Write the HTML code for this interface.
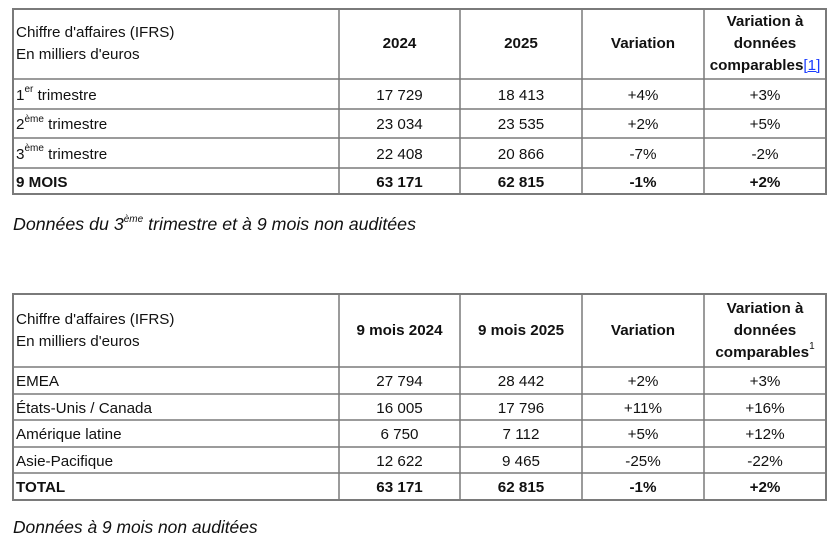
<!DOCTYPE html>
<html><head><meta charset="utf-8"><style>
html,body{margin:0;padding:0;background:#fff;width:833px;height:539px;overflow:hidden;position:relative}
body{font-family:"Liberation Sans",Arial,sans-serif;color:#111}
.c{position:absolute;display:flex;align-items:center;justify-content:center;font-size:15.2px;text-align:center;line-height:22px;box-sizing:border-box}
.r{padding-top:3px}
.l{justify-content:flex-start;text-align:left;padding-left:3px}
.b{font-weight:bold}
sup{font-size:10px;line-height:0;position:relative;top:-1px}
.it{position:absolute;left:13px;font-style:italic;font-size:17.4px;color:#111;white-space:nowrap}
svg{position:absolute;left:0;top:0}
a{color:#1a3cff;text-decoration:underline}
</style></head><body>
<svg width="833" height="539">
<g stroke="#7a7a7a" stroke-width="1.5" fill="none">
<rect x="13" y="9" width="813" height="185" stroke-width="2"/>
<line x1="339" y1="9" x2="339" y2="194"/><line x1="460" y1="9" x2="460" y2="194"/><line x1="582" y1="9" x2="582" y2="194"/><line x1="704" y1="9" x2="704" y2="194"/>
<line x1="13" y1="79" x2="826" y2="79"/><line x1="13" y1="109" x2="826" y2="109"/><line x1="13" y1="138" x2="826" y2="138"/><line x1="13" y1="168" x2="826" y2="168"/>
<rect x="13" y="294" width="813" height="206" stroke-width="2"/>
<line x1="339" y1="294" x2="339" y2="500"/><line x1="460" y1="294" x2="460" y2="500"/><line x1="582" y1="294" x2="582" y2="500"/><line x1="704" y1="294" x2="704" y2="500"/>
<line x1="13" y1="367" x2="826" y2="367"/><line x1="13" y1="394" x2="826" y2="394"/><line x1="13" y1="420" x2="826" y2="420"/><line x1="13" y1="447" x2="826" y2="447"/><line x1="13" y1="473" x2="826" y2="473"/>
</g></svg>

<!-- table 1 -->
<div class="c l" style="left:13px;top:9px;width:326px;height:70px"><span>Chiffre d'affaires (IFRS)<br>En milliers d'euros</span></div>
<div class="c b" style="left:339px;top:9px;width:121px;height:70px">2024</div>
<div class="c b" style="left:460px;top:9px;width:122px;height:70px">2025</div>
<div class="c b" style="left:582px;top:9px;width:122px;height:70px">Variation</div>
<div class="c b" style="left:704px;top:9px;width:122px;height:70px"><span>Variation à<br>données<br>comparables<a style="font-weight:normal">[1]</a></span></div>

<div class="c l r" style="left:13px;top:79px;width:326px;height:30px"><span>1<sup>er</sup> trimestre</span></div>
<div class="c r" style="left:339px;top:79px;width:121px;height:30px">17 729</div>
<div class="c r" style="left:460px;top:79px;width:122px;height:30px">18 413</div>
<div class="c r" style="left:582px;top:79px;width:122px;height:30px">+4%</div>
<div class="c r" style="left:704px;top:79px;width:122px;height:30px">+3%</div>

<div class="c l r" style="left:13px;top:109px;width:326px;height:29px"><span>2<sup>ème</sup> trimestre</span></div>
<div class="c r" style="left:339px;top:109px;width:121px;height:29px">23 034</div>
<div class="c r" style="left:460px;top:109px;width:122px;height:29px">23 535</div>
<div class="c r" style="left:582px;top:109px;width:122px;height:29px">+2%</div>
<div class="c r" style="left:704px;top:109px;width:122px;height:29px">+5%</div>

<div class="c l r" style="left:13px;top:138px;width:326px;height:30px"><span>3<sup>ème</sup> trimestre</span></div>
<div class="c r" style="left:339px;top:138px;width:121px;height:30px">22 408</div>
<div class="c r" style="left:460px;top:138px;width:122px;height:30px">20 866</div>
<div class="c r" style="left:582px;top:138px;width:122px;height:30px">-7%</div>
<div class="c r" style="left:704px;top:138px;width:122px;height:30px">-2%</div>

<div class="c l b r" style="left:13px;top:168px;width:326px;height:26px">9 MOIS</div>
<div class="c b r" style="left:339px;top:168px;width:121px;height:26px">63 171</div>
<div class="c b r" style="left:460px;top:168px;width:122px;height:26px">62 815</div>
<div class="c b r" style="left:582px;top:168px;width:122px;height:26px">-1%</div>
<div class="c b r" style="left:704px;top:168px;width:122px;height:26px">+2%</div>

<div class="it" style="top:214px;font-size:17.8px">Données du 3<sup>ème</sup> trimestre et à 9 mois non auditées</div>

<!-- table 2 -->
<div class="c l" style="left:13px;top:294px;width:326px;height:73px"><span>Chiffre d'affaires (IFRS)<br>En milliers d'euros</span></div>
<div class="c b" style="left:339px;top:294px;width:121px;height:73px">9 mois 2024</div>
<div class="c b" style="left:460px;top:294px;width:122px;height:73px">9 mois 2025</div>
<div class="c b" style="left:582px;top:294px;width:122px;height:73px">Variation</div>
<div class="c b" style="left:704px;top:294px;width:122px;height:73px"><span>Variation à<br>données<br>comparables<sup style="font-weight:normal">1</sup></span></div>

<div class="c l r" style="left:13px;top:367px;width:326px;height:27px">EMEA</div>
<div class="c r" style="left:339px;top:367px;width:121px;height:27px">27 794</div>
<div class="c r" style="left:460px;top:367px;width:122px;height:27px">28 442</div>
<div class="c r" style="left:582px;top:367px;width:122px;height:27px">+2%</div>
<div class="c r" style="left:704px;top:367px;width:122px;height:27px">+3%</div>

<div class="c l r" style="left:13px;top:394px;width:326px;height:26px">États-Unis / Canada</div>
<div class="c r" style="left:339px;top:394px;width:121px;height:26px">16 005</div>
<div class="c r" style="left:460px;top:394px;width:122px;height:26px">17 796</div>
<div class="c r" style="left:582px;top:394px;width:122px;height:26px">+11%</div>
<div class="c r" style="left:704px;top:394px;width:122px;height:26px">+16%</div>

<div class="c l r" style="left:13px;top:420px;width:326px;height:27px">Amérique latine</div>
<div class="c r" style="left:339px;top:420px;width:121px;height:27px">6 750</div>
<div class="c r" style="left:460px;top:420px;width:122px;height:27px">7 112</div>
<div class="c r" style="left:582px;top:420px;width:122px;height:27px">+5%</div>
<div class="c r" style="left:704px;top:420px;width:122px;height:27px">+12%</div>

<div class="c l r" style="left:13px;top:447px;width:326px;height:26px">Asie-Pacifique</div>
<div class="c r" style="left:339px;top:447px;width:121px;height:26px">12 622</div>
<div class="c r" style="left:460px;top:447px;width:122px;height:26px">9 465</div>
<div class="c r" style="left:582px;top:447px;width:122px;height:26px">-25%</div>
<div class="c r" style="left:704px;top:447px;width:122px;height:26px">-22%</div>

<div class="c l b r" style="left:13px;top:473px;width:326px;height:27px">TOTAL</div>
<div class="c b r" style="left:339px;top:473px;width:121px;height:27px">63 171</div>
<div class="c b r" style="left:460px;top:473px;width:122px;height:27px">62 815</div>
<div class="c b r" style="left:582px;top:473px;width:122px;height:27px">-1%</div>
<div class="c b r" style="left:704px;top:473px;width:122px;height:27px">+2%</div>

<div class="it" style="top:517px">Données à 9 mois non auditées</div>
</body></html>
